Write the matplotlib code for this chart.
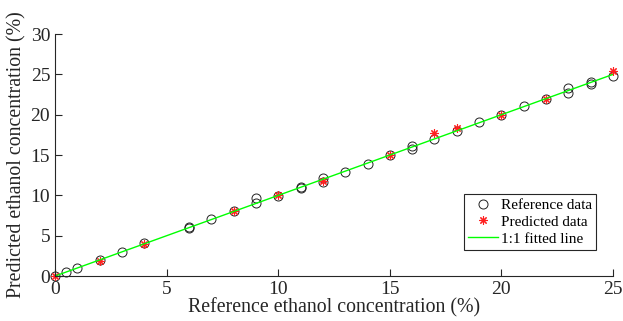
import numpy as np
import matplotlib.pyplot as plt

plt.rcParams['font.family'] = ['Liberation Serif', 'DejaVu Serif']

# reference data (circles)
ref_x = [0, 0.5, 1, 2, 3, 4, 6, 6, 7, 8, 9, 9, 10, 11, 11, 12, 12, 13, 14, 15,
         16, 16, 17, 18, 19, 20, 21, 22, 23, 23, 24, 24, 25]
ref_y = [0.0, 0.5, 1.0, 2.0, 3.0, 4.1, 6.0, 6.1, 7.1, 8.1, 9.7, 9.1, 9.9, 10.9, 11.0,
         12.1, 11.7, 12.9, 13.9, 15.0, 16.1, 15.8, 17.0, 18.0, 19.1, 20.0, 21.1,
         22.0, 23.3, 22.7, 24.1, 23.8, 24.8]

# predicted data (stars)
pred_x = [0, 2, 4, 8, 10, 12, 15, 17, 18, 20, 22, 25]
pred_y = [0.0, 1.9, 4.0, 8.1, 10.1, 11.8, 15.0, 17.7, 18.3, 20.0, 22.0, 25.4]

line_x = [0, 25]
line_y = [0, 25]

fig = plt.figure(figsize=(6.23, 3.21), dpi=100)
ax = fig.add_axes([0.0883, 0.140, 0.8957, 0.754])

ax.plot(ref_x, ref_y, 'o', mfc='none', mec='#222222', ms=6.5, mew=0.7,
        clip_on=False, label='Reference data')
ax.plot(pred_x, pred_y, ls='none', marker=(8, 2, 0), color='#ff2020', ms=6, mew=0.8,
        clip_on=False, label='Predicted data')
ax.plot(line_x, line_y, color=(0, 1, 0), lw=1.0, label='1:1 fitted line')

ax.set_xlim(0, 25)
ax.set_ylim(0, 30)
ax.set_xticks(range(0, 26, 5))
ax.set_yticks(range(0, 31, 5))
ax.spines['top'].set_visible(False)
ax.spines['right'].set_visible(False)
for s in ['left', 'bottom']:
    ax.spines[s].set_color('#262626')
    ax.spines[s].set_linewidth(0.8)
ax.tick_params(direction='in', length=5, width=0.8, colors='#262626', labelsize=14)

ax.set_xlabel('Reference ethanol concentration (%)', fontsize=14.3, color='#262626', labelpad=0)
ax.set_ylabel('Predicted ethanol concentration (%)', fontsize=14.3, color='#262626', labelpad=3)

leg = ax.legend(loc='lower right', bbox_to_anchor=(0.970, 0.107), borderaxespad=0,
                fontsize=11, fancybox=False, edgecolor='#262626', framealpha=1,
                handlelength=1.9, handletextpad=0.2, borderpad=0.3, labelspacing=0.2)
leg.get_frame().set_linewidth(0.8)

plt.savefig('out.png', dpi=100)
